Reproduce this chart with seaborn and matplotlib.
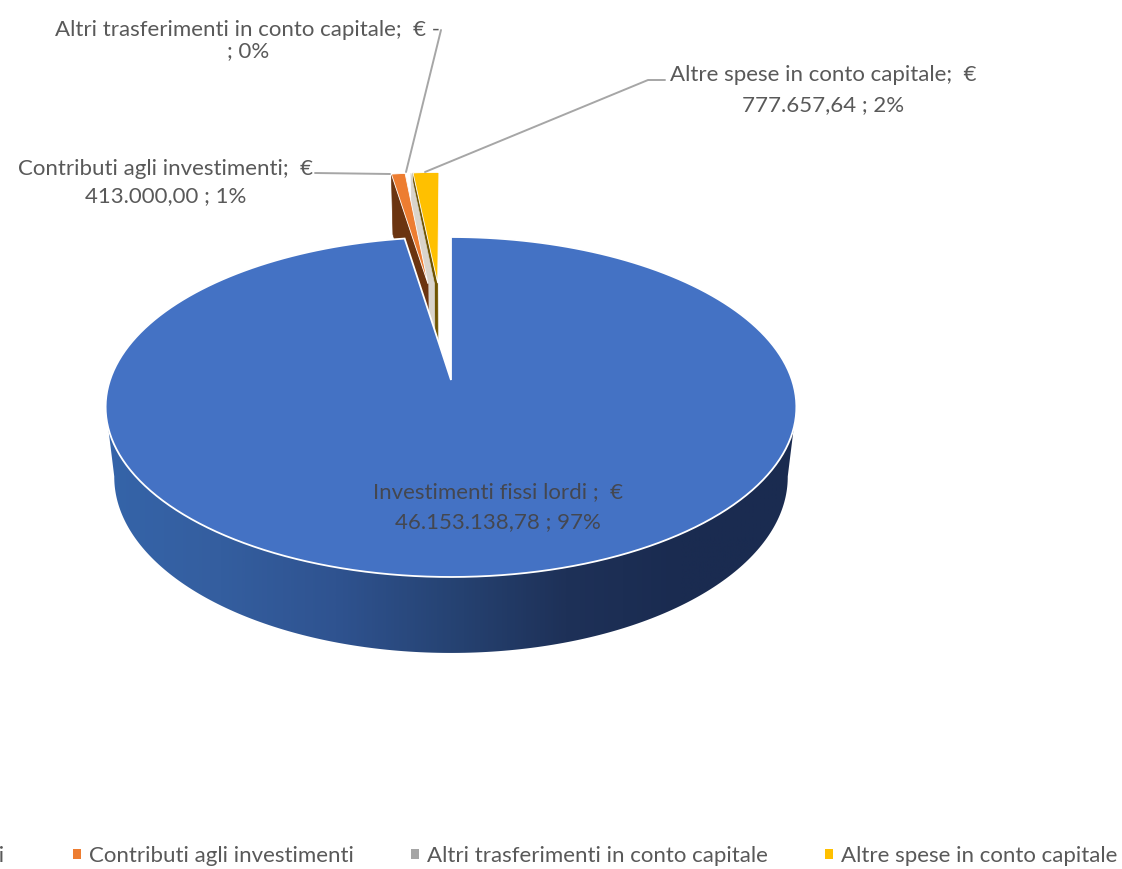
import numpy as np
import seaborn as sns
import matplotlib.pyplot as plt
from matplotlib.patches import Polygon, Patch

categories = ['Investimenti fissi lordi', 'Contributi agli investimenti',
              'Altri trasferimenti in conto capitale', 'Altre spese in conto capitale']
values = [46153138.78, 413000.00, 0.0, 777657.64]

top_colors = ['#4472c4', '#ed7d31', '#a5a5a5', '#ffc000']
face_colors = ['#1c3059', '#6b3410', '#d9d4cb', '#6f5400']
wall_colors = ['#3564a9', '#345e9f', '#2f5390', '#264373', '#1e3158', '#1a2b50', '#1a2b50']

# perspective of the pie, in pixels of the picture
cx, cy = 451, 380
bx, ay, k = 341.0, 165.7, 0.1588
depth, dk, shrink = 68.9, 0.093, 0.975
explode, radius = 0.645, 0.92
nudge = [0, 3, 4, -3]


def top_xy(X, Y):
    w = 1 + k * Y
    return cx + bx * X / w, cy - ay * Y / w


def bottom_xy(X, Y):
    w = 1 + k * Y
    return cx + shrink * bx * X / w, cy - ay * Y / w + depth / (1 + dk * Y)


def arc(a0, a1, n=200, r=1.0):
    t = np.radians(np.linspace(a0, a1, n))
    return r * np.sin(t), r * np.cos(t)


def radial_face(ax, a, ox, oy, dx, color, z):
    X = np.array([ox, ox + radius * np.sin(np.radians(a))])
    Y = np.array([oy, oy + radius * np.cos(np.radians(a))])
    tx, ty = top_xy(X, Y)
    bx_, by_ = bottom_xy(X, Y)
    pts = np.column_stack([np.r_[tx, bx_[::-1]] + dx, np.r_[ty, by_[::-1]]])
    ax.add_patch(Polygon(pts, closed=True, fc=color, ec=color, lw=0.5, zorder=z))


def wedge_top(ax, a0, a1, ox, oy, dx, r, color, z, lw):
    X, Y = arc(a0, a1, r=r)
    tx, ty = top_xy(np.r_[ox, ox + X], np.r_[oy, oy + Y])
    ax.add_patch(Polygon(np.column_stack([tx + dx, ty]), closed=True, fc=color,
                         ec='white', lw=lw, zorder=z, joinstyle='miter'))


def main():
    sns.set_theme(style='white')
    plt.rcParams['font.family'] = ['Lato', 'DejaVu Sans']

    fig = plt.figure(figsize=(11.22, 8.69), dpi=100)
    ax = fig.add_axes([0, 0, 1, 1])

    total = sum(values)
    angles = np.cumsum([0] + [v / total * 360 for v in values])

    # small slices, pulled out and behind the big one
    for i in [3, 2, 1]:
        a0, a1 = angles[i], angles[i + 1]
        mid = np.radians((a0 + a1) / 2)
        ox, oy = explode * np.sin(mid), explode * np.cos(mid)
        radial_face(ax, a0, ox, oy, nudge[i], face_colors[i], 2 + (3 - i))
        if a1 - a0 > 0:
            wedge_top(ax, a0, a1, ox, oy, nudge[i], radius, top_colors[i], 2.5 + (3 - i), 0.6)

    # outer wall of the big slice, shaded left to right
    X, Y = arc(99, 261)
    tx, ty = top_xy(X, Y)
    wx, wy = bottom_xy(X, Y)
    wall = Polygon(np.column_stack([np.r_[tx, wx[::-1]], np.r_[ty, wy[::-1]]]),
                   closed=True, transform=ax.transData, fc='none', ec='none')
    ax.add_patch(wall)
    shade = np.linspace(0, 1, 512).reshape(1, -1)
    im = ax.imshow(shade, cmap=sns.blend_palette(wall_colors, as_cmap=True),
                   extent=(105, 796, 700, 380), aspect='auto', zorder=10)
    im.set_clip_path(wall)

    wedge_top(ax, angles[0], angles[1], 0, 0, 0, 1.0, top_colors[0], 11, 1.3)

    ax.set_xlim(0, 1122)
    ax.set_ylim(869, 0)
    ax.axis('off')

    # labels
    grey = '#595959'
    fs = 16
    ax.text(248, 30, 'Altri trasferimenti in conto capitale;  € -', ha='center', va='center', color=grey, fontsize=fs, zorder=20)
    ax.text(248, 51, '; 0%', ha='center', va='center', color=grey, fontsize=fs, zorder=20)
    ax.text(823, 75, 'Altre spese in conto capitale;  €', ha='center', va='center', color=grey, fontsize=fs, zorder=20)
    ax.text(823, 105, '777.657,64 ; 2%', ha='center', va='center', color=grey, fontsize=fs, zorder=20)
    ax.text(166, 169, 'Contributi agli investimenti;  €', ha='center', va='center', color=grey, fontsize=fs, zorder=20)
    ax.text(166, 196, '413.000,00 ; 1%', ha='center', va='center', color=grey, fontsize=fs, zorder=20)
    ax.text(498, 492, 'Investimenti fissi lordi ;  €', ha='center', va='center', color='#444750', fontsize=fs, zorder=20)
    ax.text(498, 522, '46.153.138,78 ; 97%', ha='center', va='center', color='#444750', fontsize=fs, zorder=20)

    # leader lines
    line = dict(color='#a6a6a6', lw=1.4, zorder=15)
    ax.plot([441, 406], [30, 172], **line)
    ax.plot([315, 390], [173, 174], **line)
    ax.plot([665, 648, 425], [80, 80, 172], **line)

    handles = [Patch(fc=c, ec='none') for c in top_colors]
    # trailing spaces only widen the first column, which runs off the left edge
    names = [categories[0] + '  '] + categories[1:]
    ax.legend(handles, names, ncol=4, loc='center right',
              bbox_to_anchor=(1122, 856), bbox_transform=ax.transData,
              frameon=False, fontsize=fs, labelcolor=grey, columnspacing=2.57,
              handlelength=0.36, handleheight=0.36, handletextpad=0.36,
              borderpad=0, borderaxespad=0.2)

    plt.savefig('out.png', dpi=100)


if __name__ == '__main__':
    main()
